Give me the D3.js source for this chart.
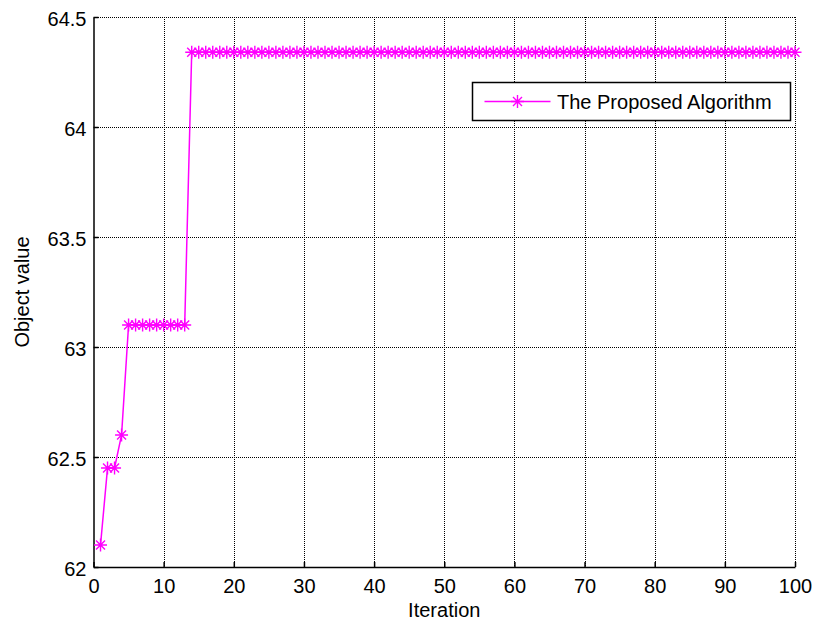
<!DOCTYPE html>
<html>
<head>
<meta charset="utf-8">
<script src="https://cdn.jsdelivr.net/npm/d3@7"></script>
<style>
body { margin: 0; background: #fff; }
text { font-family: "Liberation Sans", Arial, sans-serif; }
</style>
</head>
<body>
<div class="canvas"></div>
<script>
// data
const iterations = d3.range(1, 101);
const earlyValues = [62.1, 62.45, 62.45, 62.6];
const plateau1 = 63.1;      // iterations 5-13
const plateau2 = 64.34;     // iterations 14-100
const objectValues = iterations.map(i =>
	i <= 4 ? earlyValues[i - 1] : (i <= 13 ? plateau1 : plateau2));
const xTicks = [0, 10, 20, 30, 40, 50, 60, 70, 80, 90, 100];
const yTicks = [62, 62.5, 63, 63.5, 64, 64.5];
const seriesName = 'The Proposed Algorithm';

const svg = d3.select('.canvas')
	.append('svg')
	.attr('width', 814)
	.attr('height', 626);

const margin = { top: 17, right: 19, bottom: 59, left: 93.5 };
const graphWidth = 814 - margin.left - margin.right;
const graphHeight = 626 - margin.top - margin.bottom;

const graph = svg.append('g')
	.attr('transform', `translate(${margin.left}, ${margin.top})`);

const x = d3.scaleLinear().domain([0, 100]).range([0, graphWidth]);
const y = d3.scaleLinear().domain([62, 64.5]).range([graphHeight, 0]);
const crispX = d => Math.round(x(d) + margin.left) + 0.5 - margin.left;
const crispY = d => Math.round(y(d) + margin.top) + 0.5 - margin.top;

// dotted grid, dashes snapped to whole pixels
graph.append('g').selectAll('line')
	.data(xTicks.slice(1))
	.enter().append('line')
	.attr('x1', crispX).attr('x2', crispX)
	.attr('y1', 0).attr('y2', graphHeight)
	.attr('stroke', '#000').attr('stroke-width', 1)
	.attr('stroke-dasharray', '1,1');

graph.append('g').selectAll('line')
	.data(yTicks.slice(1))
	.enter().append('line')
	.attr('y1', crispY).attr('y2', crispY)
	.attr('x1', 0.5).attr('x2', graphWidth)
	.attr('stroke', '#000').attr('stroke-width', 1)
	.attr('stroke-dasharray', '1,1');

// axes
const xAxis = d3.axisBottom(x).tickValues(xTicks).tickSizeInner(-5).tickSizeOuter(0).tickPadding(12);
const yAxis = d3.axisLeft(y).tickValues(yTicks).tickSizeInner(-5).tickSizeOuter(0).tickPadding(7)
	.tickFormat(d3.format('~g'));

const xAxisGroup = graph.append('g')
	.attr('transform', `translate(0, ${graphHeight})`)
	.call(xAxis);
const yAxisGroup = graph.append('g').call(yAxis);

[xAxisGroup, yAxisGroup].forEach(g => {
	g.selectAll('text').attr('font-size', 20).attr('fill', '#000')
		.style('font-family', '"Liberation Sans", Arial, sans-serif');
	g.selectAll('line, path').attr('stroke', '#000').attr('stroke-width', 1.5);
});
yAxisGroup.selectAll('text').attr('dy', '0.4em');

// line
const line = d3.line()
	.x((d, i) => x(iterations[i]))
	.y(d => y(d));

graph.append('path')
	.datum(objectValues)
	.attr('d', line)
	.attr('fill', 'none')
	.attr('stroke', '#ff00ff')
	.attr('stroke-width', 1.5);

// asterisk marker
const star = (s, cx, cy) => {
	const r = 6.5, q = 4.5;
	s.append('path')
		.attr('d', `M${cx - r},${cy}H${cx + r}M${cx},${cy - r}V${cy + r}` +
			`M${cx - q},${cy - q}L${cx + q},${cy + q}M${cx - q},${cy + q}L${cx + q},${cy - q}`)
		.attr('stroke', '#ff00ff')
		.attr('stroke-width', 1.4)
		.attr('fill', 'none');
};

const markers = graph.append('g');
objectValues.forEach((v, i) => star(markers, x(iterations[i]), y(v)));

// labels
svg.append('text')
	.attr('x', margin.left + graphWidth / 2)
	.attr('y', 617)
	.attr('text-anchor', 'middle')
	.attr('font-size', 20)
	.text('Iteration');

svg.append('text')
	.attr('transform', `translate(29, ${margin.top + graphHeight / 2}) rotate(-90)`)
	.attr('text-anchor', 'middle')
	.attr('font-size', 20)
	.text('Object value');

// legend
const legend = svg.append('g').attr('transform', 'translate(472.5, 82.5)');
legend.append('rect')
	.attr('width', 318).attr('height', 38)
	.attr('fill', '#fff').attr('stroke', '#000').attr('stroke-width', 1.5);
legend.append('line')
	.attr('x1', 12).attr('x2', 78).attr('y1', 19).attr('y2', 19)
	.attr('stroke', '#ff00ff').attr('stroke-width', 1.5);
star(legend, 45, 19);
legend.append('text')
	.attr('x', 84.5).attr('y', 26.5)
	.attr('font-size', 20)
	.text(seriesName);
</script>
</body>
</html>
